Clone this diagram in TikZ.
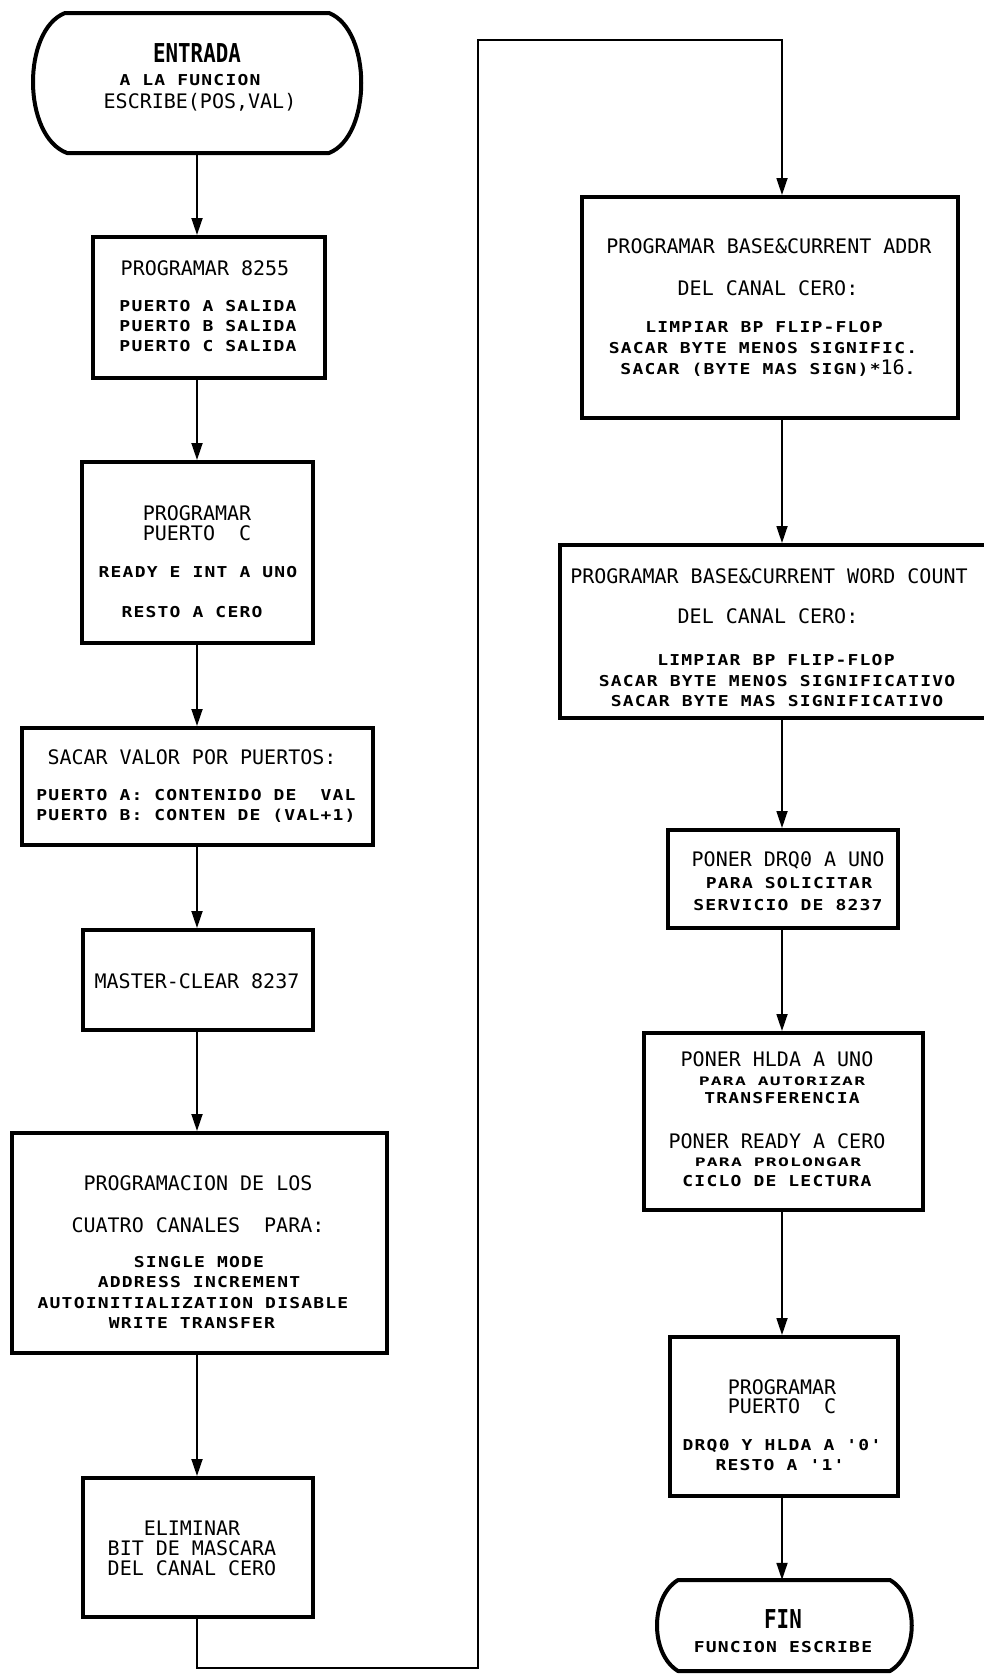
\documentclass[tikz,border=0pt]{standalone}
\usepackage{fontspec}
\usepackage{graphicx}
\usetikzlibrary{arrows.meta}
\newfontfamily\tfam{DejaVu Sans Mono}
\newfontfamily\sfam[LetterSpace=6.7]{DejaVu Sans Mono}
\newcommand\TitleF{\tfam\fontsize{20}{20}\selectfont}
\newcommand\SmallF{\sfam\bfseries\fontsize{15}{15}\selectfont}
\newcommand\SmallT[1]{\scalebox{1.2}[1]{\SmallF #1}}
\newcommand\SmallQ[1]{\scalebox{1.2}[0.78]{\SmallF #1}}
\newcommand\BigF[1]{\scalebox{0.8}[1]{\tfam\bfseries\fontsize{26}{26}\selectfont #1}}
\newcounter{tn}
\tikzset{
 box/.style={draw,line width=4pt,inner sep=0pt},
 term/.style={line width=4pt,line join=round},
 conn/.style={line width=1.8pt,-{Triangle[width=11pt,length=17pt]}},
 txt/.style={inner sep=0pt,anchor=base},
}
\newcommand\mkbox[5]{\node[box,minimum width={(#4-#2)*1pt},minimum height={(#5-#3)*1pt}] (#1) at ({(#2+#4)/2},{(#3+#5)/2}) {};}
\newcommand\lnT[3]{\stepcounter{tn}\node[txt,name=t\thetn] at (#1,#2) {\TitleF #3};}
\newcommand\lnS[3]{\stepcounter{tn}\node[txt,name=t\thetn] at (#1,#2) {\SmallT{#3}};}
\newcommand\lnQ[3]{\stepcounter{tn}\node[txt,name=t\thetn] at (#1,#2) {\SmallQ{#3}};}
\newcommand\lnB[3]{\stepcounter{tn}\node[txt,name=t\thetn] at (#1,#2) {\BigF{#3}};}
\begin{document}
\begin{tikzpicture}[x=1pt,y=-1pt]
\useasboundingbox (0,0) rectangle (984,1674);
\fill[white] (0,0) rectangle (984,1674);
\coordinate (colL) at (197,0);
\coordinate (colR) at (782,0);
% start terminal
\node[minimum width=329pt,minimum height=140pt,inner sep=0pt] (start) at (197.5,83) {};
\draw[term] (65,13) -- (329,13) .. controls (372,30) and (372,136) .. (329,153) -- (67,153) .. controls (22,136) and (22,30) .. (65,13) -- cycle;
\lnB{197}{62}{ENTRADA}
\lnS{190}{85}{A LA FUNCION}
\lnT{200}{108}{ESCRIBE(POS,VAL)}
% left column
\mkbox{b1}{93}{237}{325}{378}
\lnT{205}{275}{PROGRAMAR 8255}
\lnS{208}{311}{PUERTO A SALIDA}
\lnS{208}{331}{PUERTO B SALIDA}
\lnS{208}{351}{PUERTO C SALIDA}
\mkbox{b2}{82}{462}{313}{643}
\lnT{197}{520}{PROGRAMAR}
\lnT{197}{540}{PUERTO~~C}
\lnS{198}{577}{READY E INT A UNO}
\lnS{192}{617}{RESTO A CERO}
\mkbox{b3}{22}{728}{373}{845}
\lnT{192}{764}{SACAR VALOR POR PUERTOS:}
\lnS{196}{800}{PUERTO A: CONTENIDO DE~~VAL}
\lnS{196}{820}{PUERTO B: CONTEN DE (VAL+1)}
\mkbox{b4}{83}{930}{313}{1030}
\lnT{197}{988}{MASTER-CLEAR 8237}
\mkbox{b5}{12}{1133}{387}{1353}
\lnT{198}{1190}{PROGRAMACION DE LOS}
\lnT{198}{1232}{CUATRO CANALES~~PARA:}
\lnS{199}{1267}{SINGLE MODE}
\lnS{199}{1287}{ADDRESS INCREMENT}
\lnS{193}{1308}{AUTOINITIALIZATION DISABLE}
\lnS{192}{1328}{WRITE TRANSFER}
\mkbox{b6}{83}{1478}{313}{1617}
\lnT{192}{1535}{ELIMINAR}
\lnT{192}{1555}{BIT DE MASCARA}
\lnT{192}{1575}{DEL CANAL CERO}
% right column
\mkbox{b7}{582}{197}{958}{418}
\lnT{769}{253}{PROGRAMAR BASE\&CURRENT ADDR}
\lnT{768}{295}{DEL CANAL CERO:}
\lnS{764}{332}{LIMPIAR BP FLIP-FLOP}
\lnS{763}{353}{SACAR BYTE MENOS SIGNIFIC.}
\stepcounter{tn}\node[txt,name=t\thetn] at (768,374) {\SmallT{SACAR (BYTE MAS SIGN)*}{\TitleF 16}\SmallT{.}};
\mkbox{b8}{560}{545}{990}{718}
\lnT{769}{583}{PROGRAMAR BASE\&CURRENT WORD COUNT}
\lnT{768}{623}{DEL CANAL CERO:}
\lnS{776}{665}{LIMPIAR BP FLIP-FLOP}
\lnS{777}{686}{SACAR BYTE MENOS SIGNIFICATIVO}
\lnS{777}{706}{SACAR BYTE MAS SIGNIFICATIVO}
\mkbox{b9}{668}{830}{898}{928}
\lnT{788}{866}{PONER DRQ0 A UNO}
\lnS{789}{888}{PARA SOLICITAR}
\lnS{788}{910}{SERVICIO DE 8237}
\mkbox{b10}{644}{1033}{923}{1210}
\lnT{777}{1066}{PONER HLDA A UNO}
\lnQ{782}{1085}{PARA AUTORIZAR}
\lnS{782}{1103}{TRANSFERENCIA}
\lnT{777}{1148}{PONER READY A CERO}
\lnQ{778}{1166}{PARA PROLONGAR}
\lnS{777}{1186}{CICLO DE LECTURA}
\mkbox{b11}{670}{1337}{898}{1496}
\lnT{782}{1394}{PROGRAMAR}
\lnT{782}{1413}{PUERTO~~C}
\lnS{782}{1450}{DRQ0 Y HLDA A '0'}
\lnS{780}{1470}{RESTO A '1'}
% end terminal
\node[minimum width=255pt,minimum height=91pt,inner sep=0pt] (end) at (784.5,1625.5) {};
\draw[term] (678,1580) -- (890,1580) .. controls (919,1597) and (919,1654) .. (890,1671) -- (678,1671) .. controls (650,1654) and (650,1597) .. (678,1580) -- cycle;
\lnB{783}{1628}{FIN}
\lnS{783}{1652}{FUNCION ESCRIBE}
% connectors
\draw[conn] (start.south -| colL) -- (b1.north -| colL);
\draw[conn] (b1.south -| colL) -- (b2.north -| colL);
\draw[conn] (b2.south -| colL) -- (b3.north -| colL);
\draw[conn] (b3.south -| colL) -- (b4.north -| colL);
\draw[conn] (b4.south -| colL) -- (b5.north -| colL);
\draw[conn] (b5.south -| colL) -- (b6.north -| colL);
\coordinate (c1) at (478,1668);
\coordinate (c2) at (478,40);
\draw[conn] (b6.south -| colL) |- (c1) -- (c2) -| (b7.north -| colR);
\draw[conn] (b7.south -| colR) -- (b8.north -| colR);
\draw[conn] (b8.south -| colR) -- (b9.north -| colR);
\draw[conn] (b9.south -| colR) -- (b10.north -| colR);
\draw[conn] (b10.south -| colR) -- (b11.north -| colR);
\draw[conn] (b11.south -| colR) -- (end.north -| colR);
\end{tikzpicture}
\end{document}
